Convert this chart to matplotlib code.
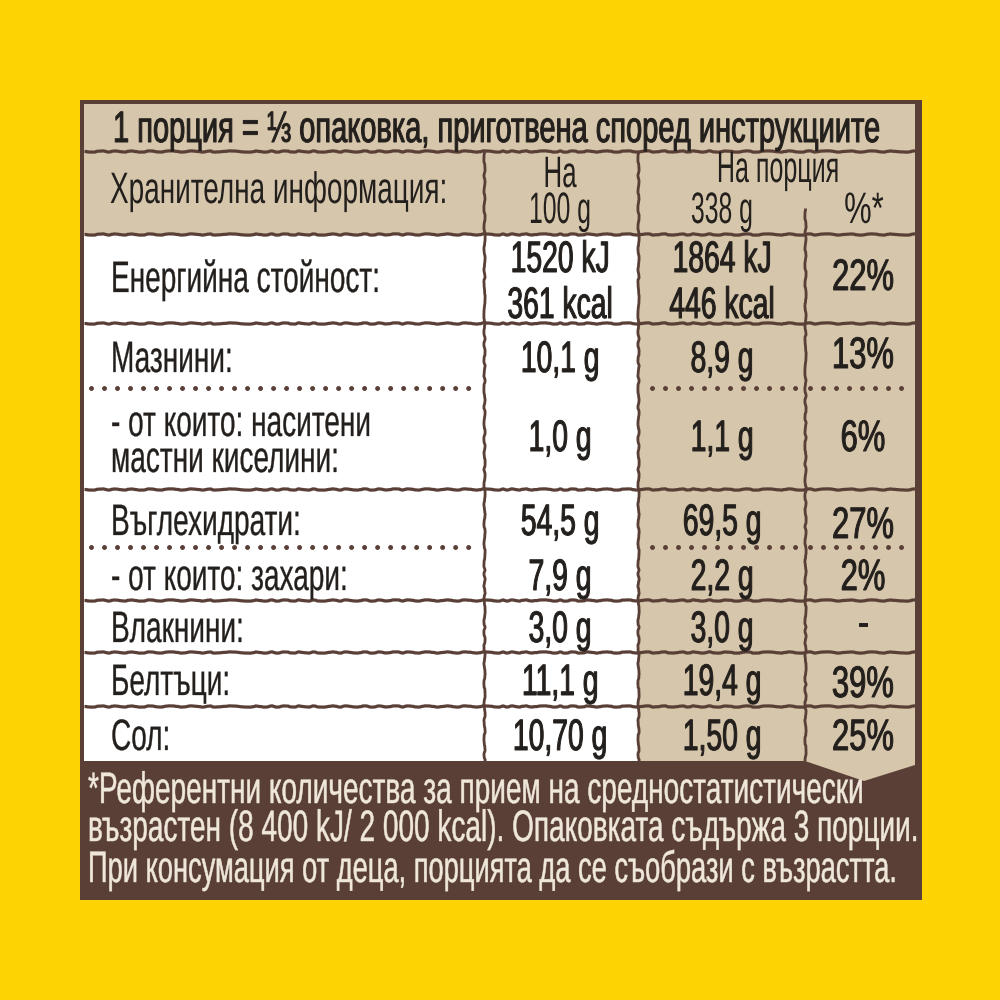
import matplotlib
matplotlib.use("Agg")
import matplotlib.pyplot as plt
from matplotlib import font_manager as fm
from matplotlib.patheffects import AbstractPathEffect
from matplotlib.transforms import Affine2D

names = {f.name for f in fm.fontManager.ttflist}
FAMILY = "Liberation Sans Narrow" if "Liberation Sans Narrow" in names else "Liberation Sans"
BASE_SQUEEZE = 0.82 if FAMILY == "Liberation Sans Narrow" else 0.67

YELLOW, BROWN, BEIGE, WHITE, INK, CREAM = "#fed304", "#5a3f37", "#d5c6ac", "#ffffff", "#231f1c", "#efe8da"

title = "1 порция = ⅓ опаковка, приготвена според инструкциите"
header_label = "Хранителна информация:"
header_100 = ["На", "100 g"]
header_portion = ["На порция", "338 g", "%*"]

row_labels = [["Енергийна стойност:"], ["Мазнини:"],
              ["- от които: наситени", "мастни киселини:"], ["Въглехидрати:"],
              ["- от които: захари:"], ["Влакнини:"], ["Белтъци:"], ["Сол:"]]
per_100 = [["1520 kJ", "361 kcal"], ["10,1 g"], ["1,0 g"], ["54,5 g"], ["7,9 g"], ["3,0 g"], ["11,1 g"], ["10,70 g"]]
per_portion = [["1864 kJ", "446 kcal"], ["8,9 g"], ["1,1 g"], ["69,5 g"], ["2,2 g"], ["3,0 g"], ["19,4 g"], ["1,50 g"]]
percent = ["22%", "13%", "6%", "27%", "2%", "-", "39%", "25%"]
footnote = ["*Референтни количества за прием на средностатистически",
            "възрастен (8 400 kJ/ 2 000 kcal). Опаковката съдържа 3 порции.",
            "При консумация от деца, порцията да се съобрази с възрастта."]

label_baselines = [[292], [372], [436, 472], [535], [590], [642], [695], [750]]
v100_baselines = [[272, 318], [372], [451], [535], [590], [642], [695], [750]]
vpor_baselines = [[272, 318], [372], [451], [535], [590], [642], [695], [750]]
pct_baselines = [290, 368, 451, 538, 590, 636, 697, 750]
foot_baselines = [803, 841, 882]
foot_squeeze = [0.95, 0.95, 0.925]

solid_rows = [151, 234, 323, 489, 600, 652, 706]
dotted_rows = [388, 547]
col_x = [484, 638, 805]
X_LABEL, X_100, X_POR, X_PCT = 111, 560, 722, 863


class Tall(AbstractPathEffect):
    """Stretch the glyphs vertically about the baseline and thicken them a little."""
    def __init__(self, sy, y0, bold=0.0):
        super().__init__()
        self.sy, self.y0, self.bold = sy, y0, bold

    def draw_path(self, renderer, gc, tpath, affine, rgbFace=None):
        a = affine + Affine2D().translate(0, -self.y0).scale(1, self.sy).translate(0, self.y0)
        g = renderer.new_gc()
        g.copy_properties(gc)
        if self.bold > 0:
            g.set_linewidth(self.bold)
            g.set_foreground(rgbFace)
        renderer.draw_path(g, tpath, a, rgbFace)
        g.restore()


fig = plt.figure(figsize=(10, 10), dpi=100, facecolor=YELLOW)
ax = fig.add_axes([0, 0, 1, 1])
ax.set_xlim(0, 1000)
ax.set_ylim(1000, 0)
ax.axis("off")


def T(x, y, s, px, ha="left", color=INK, sq=1.0, bold=0.0):
    sx = BASE_SQUEEZE * sq
    t = ax.text(x, y, s, fontsize=px * 0.72 * sx, ha=ha, va="baseline", color=color,
                family=[FAMILY, "DejaVu Sans"])
    t.set_path_effects([Tall(1 / sx, 1000 - y, bold)])
    return t


def rough(xs, ys, lw=3.0):
    ln, = ax.plot(xs, ys, color=BROWN, lw=lw * 0.72, solid_capstyle="butt")
    ln.set_sketch_params(scale=0.6, length=30, randomness=6)
    return ln


LEFT, RIGHT, TOP, BOTTOM = 84, 915, 104, 761
ax.fill([80, 922, 922, 80], [100, 100, 900, 900], color=BROWN, lw=0)
ax.fill([LEFT, RIGHT, RIGHT, LEFT], [TOP, TOP, solid_rows[1], solid_rows[1]], color=BEIGE, lw=0)
ax.fill([LEFT, col_x[1], col_x[1], LEFT], [solid_rows[1], solid_rows[1], BOTTOM, BOTTOM], color=WHITE, lw=0)
ax.fill([col_x[1], RIGHT, RIGHT, 864, col_x[2], col_x[1]],
        [solid_rows[1], solid_rows[1], 765, 781, BOTTOM, BOTTOM], color=BEIGE, lw=0)

for y in solid_rows:
    rough([LEFT, RIGHT], [y, y], lw=3.2)
rough([col_x[0]] * 2, [solid_rows[0], BOTTOM], lw=2.8)
rough([col_x[1]] * 2, [solid_rows[0], BOTTOM], lw=2.8)
rough([col_x[2]] * 2, [208, BOTTOM], lw=2.8)
for y in dotted_rows:
    for a, b in [(91, 481), (652, 799), (810, 906)]:
        ax.plot([a, b], [y, y], color=BROWN, lw=3.6, linestyle=(0, (0.001, 2.6)),
                dash_capstyle="round")

BODY = 44
NUM_BOLD = 0.7
T(113, 142, title, 44, sq=0.985, bold=0.7)
T(X_LABEL - 1, 203, header_label, BODY, sq=0.948)
T(X_100, 187, header_100[0], BODY, "center", sq=0.88)
T(X_100, 223, header_100[1], BODY, "center", sq=0.84)
T(778, 182, header_portion[0], BODY, "center", sq=0.85)
T(X_POR, 223, header_portion[1], BODY, "center", sq=0.84)
T(864, 223, header_portion[2], BODY, "center", sq=1.05)

for labels, ys in zip(row_labels, label_baselines):
    for s, y in zip(labels, ys):
        T(X_LABEL, y, s, BODY, sq=0.95, bold=0.2)
for vals, ys in zip(per_100, v100_baselines):
    for s, y in zip(vals, ys):
        T(X_100, y, s, BODY, "center", sq=0.96, bold=NUM_BOLD)
for vals, ys in zip(per_portion, vpor_baselines):
    for s, y in zip(vals, ys):
        T(X_POR, y, s, BODY, "center", sq=0.96, bold=NUM_BOLD)
for s, y in zip(percent, pct_baselines):
    T(X_PCT, y, s, BODY, "center", sq=1.05, bold=NUM_BOLD)
for s, y, q in zip(footnote, foot_baselines, foot_squeeze):
    T(88, y, s, BODY, color=CREAM, sq=q, bold=0.35)

fig.savefig("out.png", dpi=100, facecolor=YELLOW)
